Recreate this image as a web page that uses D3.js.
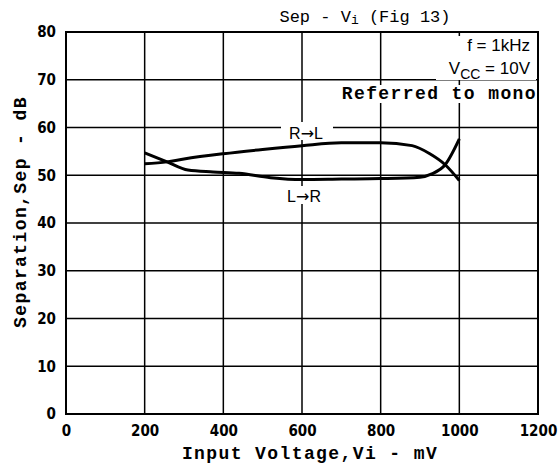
<!DOCTYPE html>
<html>
<head>
<meta charset="utf-8">
<script src="https://cdn.jsdelivr.net/npm/d3@7"></script>
<style>
body { margin: 0; background: #fff; }
svg { display: block; }
</style>
</head>
<body>
<div></div>
<script>
// values
var xTicks = [0, 200, 400, 600, 800, 1000, 1200];
var yTicks = [0, 10, 20, 30, 40, 50, 60, 70, 80];

var rlVolt = [200, 257, 300, 400, 500, 600, 700, 800, 880, 925, 964, 1000];
var rlSep  = [52.4, 52.8, 53.4, 54.5, 55.4, 56.2, 56.8, 56.8, 56.2, 54.5, 52.2, 48.9];

var lrVolt = [200, 257, 310, 374, 440, 520, 600, 700, 800, 900, 930, 964, 1000];
var lrSep  = [54.7, 52.8, 51.1, 50.7, 50.4, 49.5, 49.1, 49.2, 49.3, 49.6, 50.3, 52.2, 57.6];

var W = 558, H = 466;
var plotL = 66, plotR = 538, plotT = 32, plotB = 414;

var svg = d3.select("body").select("div").append("svg")
	.attr("width", W)
	.attr("height", H);

var x = d3.scaleLinear().domain([0, 1200]).range([plotL, plotR]);
var y = d3.scaleLinear().domain([0, 80]).range([plotB, plotT]);

var gridGroup = svg.append('g');
var maskGroup = svg.append('g');
var curveGroup = svg.append('g');
var textGroup = svg.append('g');

// grid
gridGroup.selectAll('line.v')
	.data(xTicks.slice(1, -1))
	.enter()
	.append('line')
	.attr('x1', d => x(d)).attr('x2', d => x(d))
	.attr('y1', plotT).attr('y2', plotB)
	.attr('stroke', '#000')
	.attr('stroke-width', 1.5);

gridGroup.selectAll('line.h')
	.data(yTicks.slice(1, -1))
	.enter()
	.append('line')
	.attr('x1', plotL).attr('x2', plotR)
	.attr('y1', d => y(d)).attr('y2', d => y(d))
	.attr('stroke', '#000')
	.attr('stroke-width', 1.5);

gridGroup.append('rect')
	.attr('x', plotL).attr('y', plotT)
	.attr('width', plotR - plotL).attr('height', plotB - plotT)
	.attr('fill', 'none')
	.attr('stroke', '#000')
	.attr('stroke-width', 2);

// axes (labels only)
var xAxis = d3.axisBottom(x).tickValues(xTicks).tickFormat(d3.format('d')).tickSize(0).tickPadding(11);
var yAxis = d3.axisLeft(y).tickValues(yTicks).tickFormat(d3.format('d')).tickSize(0).tickPadding(10);

svg.append('g')
	.attr('transform', 'translate(0,' + plotB + ')')
	.call(xAxis)
	.call(g => g.select('.domain').remove())
	.selectAll('text')
	.attr('font-family', 'DejaVu Sans Condensed, DejaVu Sans')
	.attr('font-weight', 'bold')
	.attr('font-size', 15)
	.attr('fill', '#000');

svg.append('g')
	.attr('transform', 'translate(' + plotL + ',0)')
	.call(yAxis)
	.call(g => g.select('.domain').remove())
	.selectAll('text')
	.attr('font-family', 'DejaVu Sans Condensed, DejaVu Sans')
	.attr('font-weight', 'bold')
	.attr('font-size', 15)
	.attr('fill', '#000');

// label backgrounds break the grid like the reference
maskGroup.append('rect').attr('x', 281).attr('y', 122).attr('width', 52).attr('height', 18).attr('fill', '#fff');
maskGroup.append('rect').attr('x', 278).attr('y', 186).attr('width', 52).attr('height', 18).attr('fill', '#fff');
maskGroup.append('rect').attr('x', 338).attr('y', 85).attr('width', 198).attr('height', 18).attr('fill', '#fff');
maskGroup.append('rect').attr('x', 436).attr('y', 36).attr('width', 100).attr('height', 44).attr('fill', '#fff');

// curves
var line = d3.line().x(d => x(d[0])).y(d => y(d[1])).curve(d3.curveMonotoneX);

curveGroup.append('path')
	.datum(d3.zip(rlVolt, rlSep))
	.attr('d', line)
	.attr('fill', 'none')
	.attr('stroke', '#000')
	.attr('stroke-width', 3);

curveGroup.append('path')
	.datum(d3.zip(lrVolt, lrSep))
	.attr('d', line)
	.attr('fill', 'none')
	.attr('stroke', '#000')
	.attr('stroke-width', 3);

var mono = 'Liberation Mono';

function arrowLabel(cx, by, a, b) {
	var t = textGroup.append('text')
		.attr('x', cx).attr('y', by)
		.attr('text-anchor', 'middle')
		.attr('font-family', 'Liberation Sans')
		.attr('font-size', 16);
	t.append('tspan').text(a);
	t.append('tspan').attr('font-family', 'DejaVu Sans').text('\u2192');
	t.append('tspan').text(b);
}
arrowLabel(306, 139, 'R', 'L');
arrowLabel(304, 202, 'L', 'R');

textGroup.append('text')
	.attr('x', 537).attr('y', 99)
	.attr('text-anchor', 'end')
	.attr('font-family', mono)
	.attr('font-weight', 'bold')
	.attr('font-size', 18)
	.attr('letter-spacing', 1.4)
	.text('Referred to mono');

textGroup.append('text')
	.attr('x', 530).attr('y', 51)
	.attr('text-anchor', 'end')
	.attr('font-family', 'Liberation Sans')
	.attr('font-size', 17)
	.text('f = 1kHz');

var vcc = textGroup.append('text')
	.attr('x', 530).attr('y', 74)
	.attr('text-anchor', 'end')
	.attr('font-family', 'Liberation Sans')
	.attr('font-size', 17);
vcc.append('tspan').text('V');
vcc.append('tspan').attr('dy', 5).attr('font-size', 14).text('CC');
vcc.append('tspan').attr('dy', -5).text(' = 10V');

// title
var title = svg.append('text')
	.attr('x', 365).attr('y', 22)
	.attr('text-anchor', 'middle')
	.attr('font-family', mono)
	.attr('font-size', 17);
title.append('tspan').text('Sep - V');
title.append('tspan').attr('font-size', 13).attr('dy', 2).text('i');
title.append('tspan').attr('dy', -2).text(' (Fig 13)');

// axis titles
svg.append('text')
	.attr('x', (plotL + plotR) / 2 + 8).attr('y', 459)
	.attr('text-anchor', 'middle')
	.attr('font-family', mono)
	.attr('font-weight', 'bold')
	.attr('font-size', 18)
	.attr('letter-spacing', 1.4)
	.text('Input Voltage,Vi - mV');

svg.append('text')
	.attr('transform', 'translate(26,212) rotate(-90)')
	.attr('text-anchor', 'middle')
	.attr('font-family', mono)
	.attr('font-weight', 'bold')
	.attr('font-size', 18)
	.attr('letter-spacing', 1.4)
	.text('Separation,Sep - dB');
</script>
</body>
</html>
